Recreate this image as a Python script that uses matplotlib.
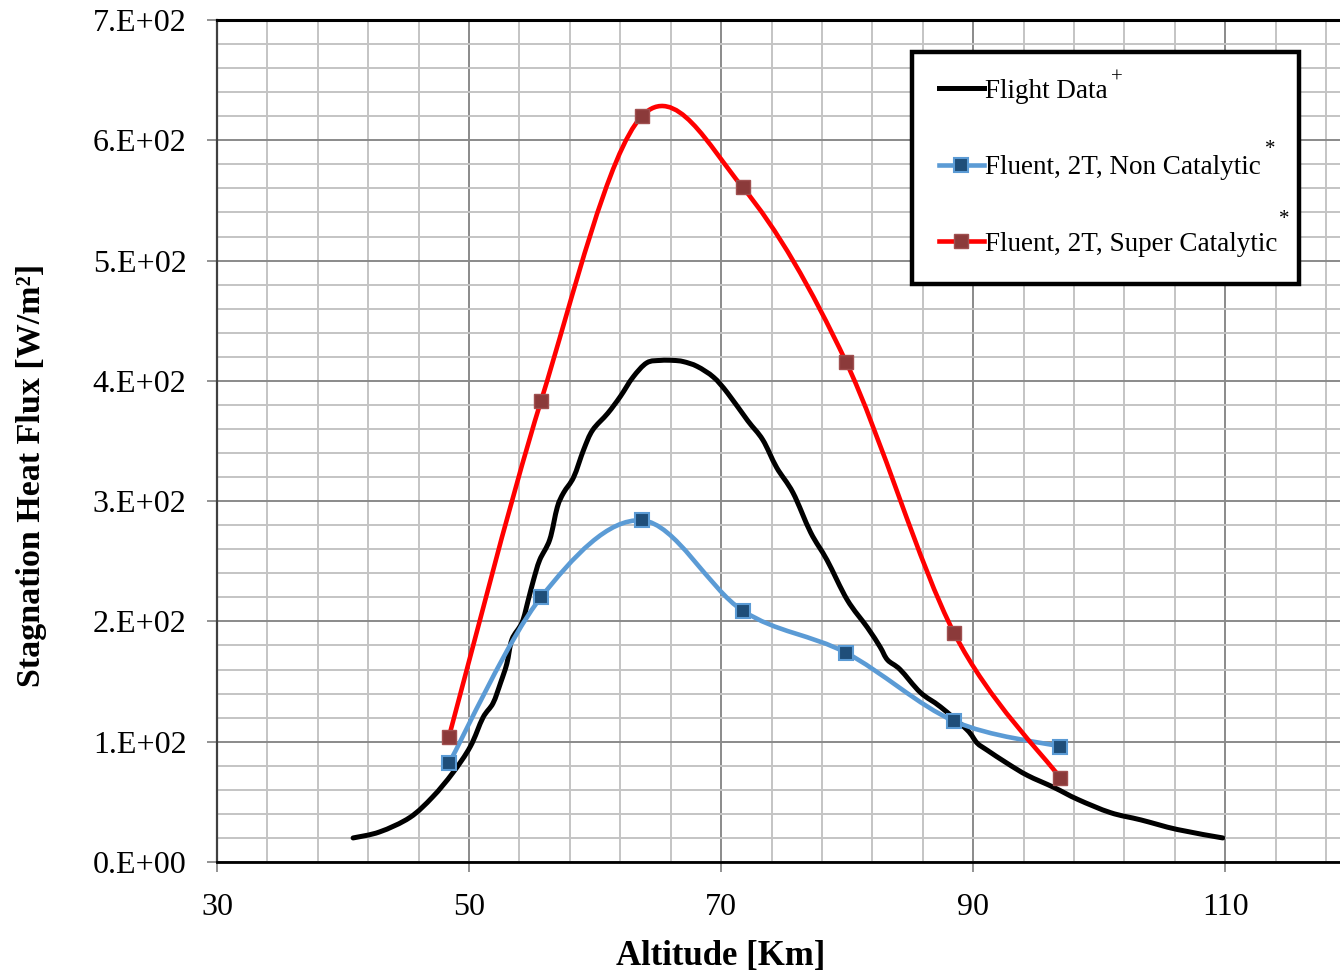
import numpy as np
import matplotlib
matplotlib.use("Agg")
import matplotlib.pyplot as plt
from matplotlib.path import Path
from matplotlib.patches import PathPatch
from matplotlib.lines import Line2D
from matplotlib.ticker import MultipleLocator, FuncFormatter

plt.rcParams['font.family'] = ['Liberation Serif', 'DejaVu Serif']

# flight data
flight_alt = [40.8, 42.9, 45.3, 47.1, 48.7, 50.1, 51.1, 51.9, 52.5, 53.0, 53.4,
              54.2, 54.7, 55.1, 55.6, 56.4, 57.0, 57.5, 58.3, 59.1, 59.8, 61.0,
              62.0, 63.0, 64.1, 65.2, 66.2, 67.0, 68.1, 69.4, 70.5, 72.1, 73.3,
              74.4, 75.7, 77.1, 78.4, 80.0, 81.6, 82.6, 83.2, 84.2, 85.8, 87.4,
              89.5, 90.3, 91.1, 92.7, 94.3, 96.4, 98.3, 100.9, 103.3, 106.2, 109.8]
flight_q = [20, 25, 37, 54, 74, 96, 120, 132, 149, 165, 185,
            199, 218, 234, 251, 268, 295, 307, 320, 343, 359, 373,
            387, 403, 415, 417, 417, 416, 412, 403, 390, 367, 351,
            328, 307, 274, 251, 218, 195, 179, 168, 160, 141, 129,
            110, 99, 93, 82, 72, 62, 52, 41, 35, 27, 20]

# Fluent 2T results
cfd_alt = [48.4, 55.7, 63.7, 71.7, 79.9, 88.5, 96.9]
noncat_q = [82, 220, 284, 209, 174, 117, 96]
supercat_q = [104, 383, 620, 561, 416, 190, 70]

labels = ['Flight Data', 'Fluent, 2T, Non Catalytic', 'Fluent, 2T, Super Catalytic']


def smooth_path(x, y):
    # excel style smoothed line (catmull-rom as cubic bezier)
    pts = np.column_stack([x, y]).astype(float)
    n = len(pts)
    verts = [pts[0]]
    codes = [Path.MOVETO]
    for i in range(n - 1):
        p0 = pts[max(i - 1, 0)]
        p1 = pts[i]
        p2 = pts[i + 1]
        p3 = pts[min(i + 2, n - 1)]
        verts += [p1 + (p2 - p0) / 6, p2 - (p3 - p1) / 6, p2]
        codes += [Path.CURVE4] * 3
    return Path(verts, codes)


fig = plt.figure(figsize=(13.4, 9.75), dpi=100)
ax = fig.add_axes([217 / 1340, 113 / 975, 1123 / 1340, 842 / 975])

black = 'black'
blue = '#5B9BD5'
red = '#FF0000'

ax.add_patch(PathPatch(smooth_path(flight_alt, flight_q), fill=False, ec=black,
                       lw=3.6, capstyle='round', joinstyle='round', zorder=3))
ax.add_patch(PathPatch(smooth_path(cfd_alt, noncat_q), fill=False, ec=blue,
                       lw=3.3, capstyle='round', joinstyle='round', zorder=4))
ax.add_patch(PathPatch(smooth_path(cfd_alt, supercat_q), fill=False, ec=red,
                       lw=3.3, capstyle='round', joinstyle='round', zorder=5))
ax.plot(cfd_alt, noncat_q, ls='none', marker='s', ms=9.5, mfc='#1F4E79', mec=blue,
        mew=1.5, zorder=6)
ax.plot(cfd_alt, supercat_q, ls='none', marker='s', ms=9.5, mfc='#8B3A3A', mec='#A05050',
        mew=1.0, zorder=7)

ax.set_xlim(30, 119.1)
ax.set_ylim(0, 700)
ax.xaxis.set_major_locator(MultipleLocator(20, offset=10))
ax.xaxis.set_minor_locator(MultipleLocator(4, offset=2))
ax.yaxis.set_major_locator(MultipleLocator(100))
ax.yaxis.set_minor_locator(MultipleLocator(20))


def yfmt(v, pos):
    if v == 0:
        return '0.E+00'
    return '%d.E+02' % round(v / 100)


ax.yaxis.set_major_formatter(FuncFormatter(yfmt))
ax.grid(which='minor', color='#c4c4c4', lw=1.4, zorder=0)
ax.grid(which='major', color='#8a8a8a', lw=1.4, zorder=1)
ax.set_axisbelow(True)
ax.tick_params(which='major', direction='out', length=7, width=1.2, color='#808080',
               pad=15, labelsize=23)
ax.tick_params(which='minor', length=0)

ax.spines['right'].set_visible(False)
ax.spines['top'].set_color('black')
ax.spines['top'].set_linewidth(2.2)
ax.spines['bottom'].set_color('black')
ax.spines['bottom'].set_linewidth(2.0)
ax.spines['left'].set_color('#404040')
ax.spines['left'].set_linewidth(1.6)

ax.set_xlabel('Altitude [Km]', fontsize=25, fontweight='bold')
ax.set_ylabel('Stagnation Heat Flux [W/m²]', fontsize=24.5, fontweight='bold')
ax.xaxis.set_label_coords((721 - 217) / 1123, (862 - 957) / 842)
ax.xaxis.label.set_va('center')
ax.yaxis.set_label_coords((32 - 217) / 1123, (862 - 475) / 842)
ax.yaxis.label.set_va('center')

handles = [
    Line2D([], [], color=black, lw=3.6),
    Line2D([], [], color=blue, lw=3.3, marker='s', ms=9.5, mfc='#1F4E79', mec=blue, mew=1.5),
    Line2D([], [], color=red, lw=3.3, marker='s', ms=9.5, mfc='#8B3A3A', mec='#A05050', mew=1.0),
]
leg = ax.legend(handles, labels, loc='upper left',
                bbox_to_anchor=((912 - 217) / 1123, 1 - 40 / 842, (1299 - 912) / 1123, 0.01),
                mode='expand', fontsize=19.5, frameon=True, fancybox=False,
                borderpad=1.0, labelspacing=1.9, handlelength=1.65, handletextpad=0.05,
                borderaxespad=0)
leg.get_frame().set_edgecolor('black')
leg.get_frame().set_linewidth(3.2)
leg.get_frame().set_facecolor('white')
leg.get_frame().set_alpha(1)
leg.set_zorder(10)

fig.text(1117 / 1340, 1 - 78 / 975, '+', fontsize=15, ha='center', va='center', zorder=11)
fig.text(1270 / 1340, 1 - 149 / 975, '*', fontsize=15, ha='center', va='center', zorder=11)
fig.text(1284 / 1340, 1 - 220 / 975, '*', fontsize=15, ha='center', va='center', zorder=11)

fig.savefig('out.png', dpi=100)
